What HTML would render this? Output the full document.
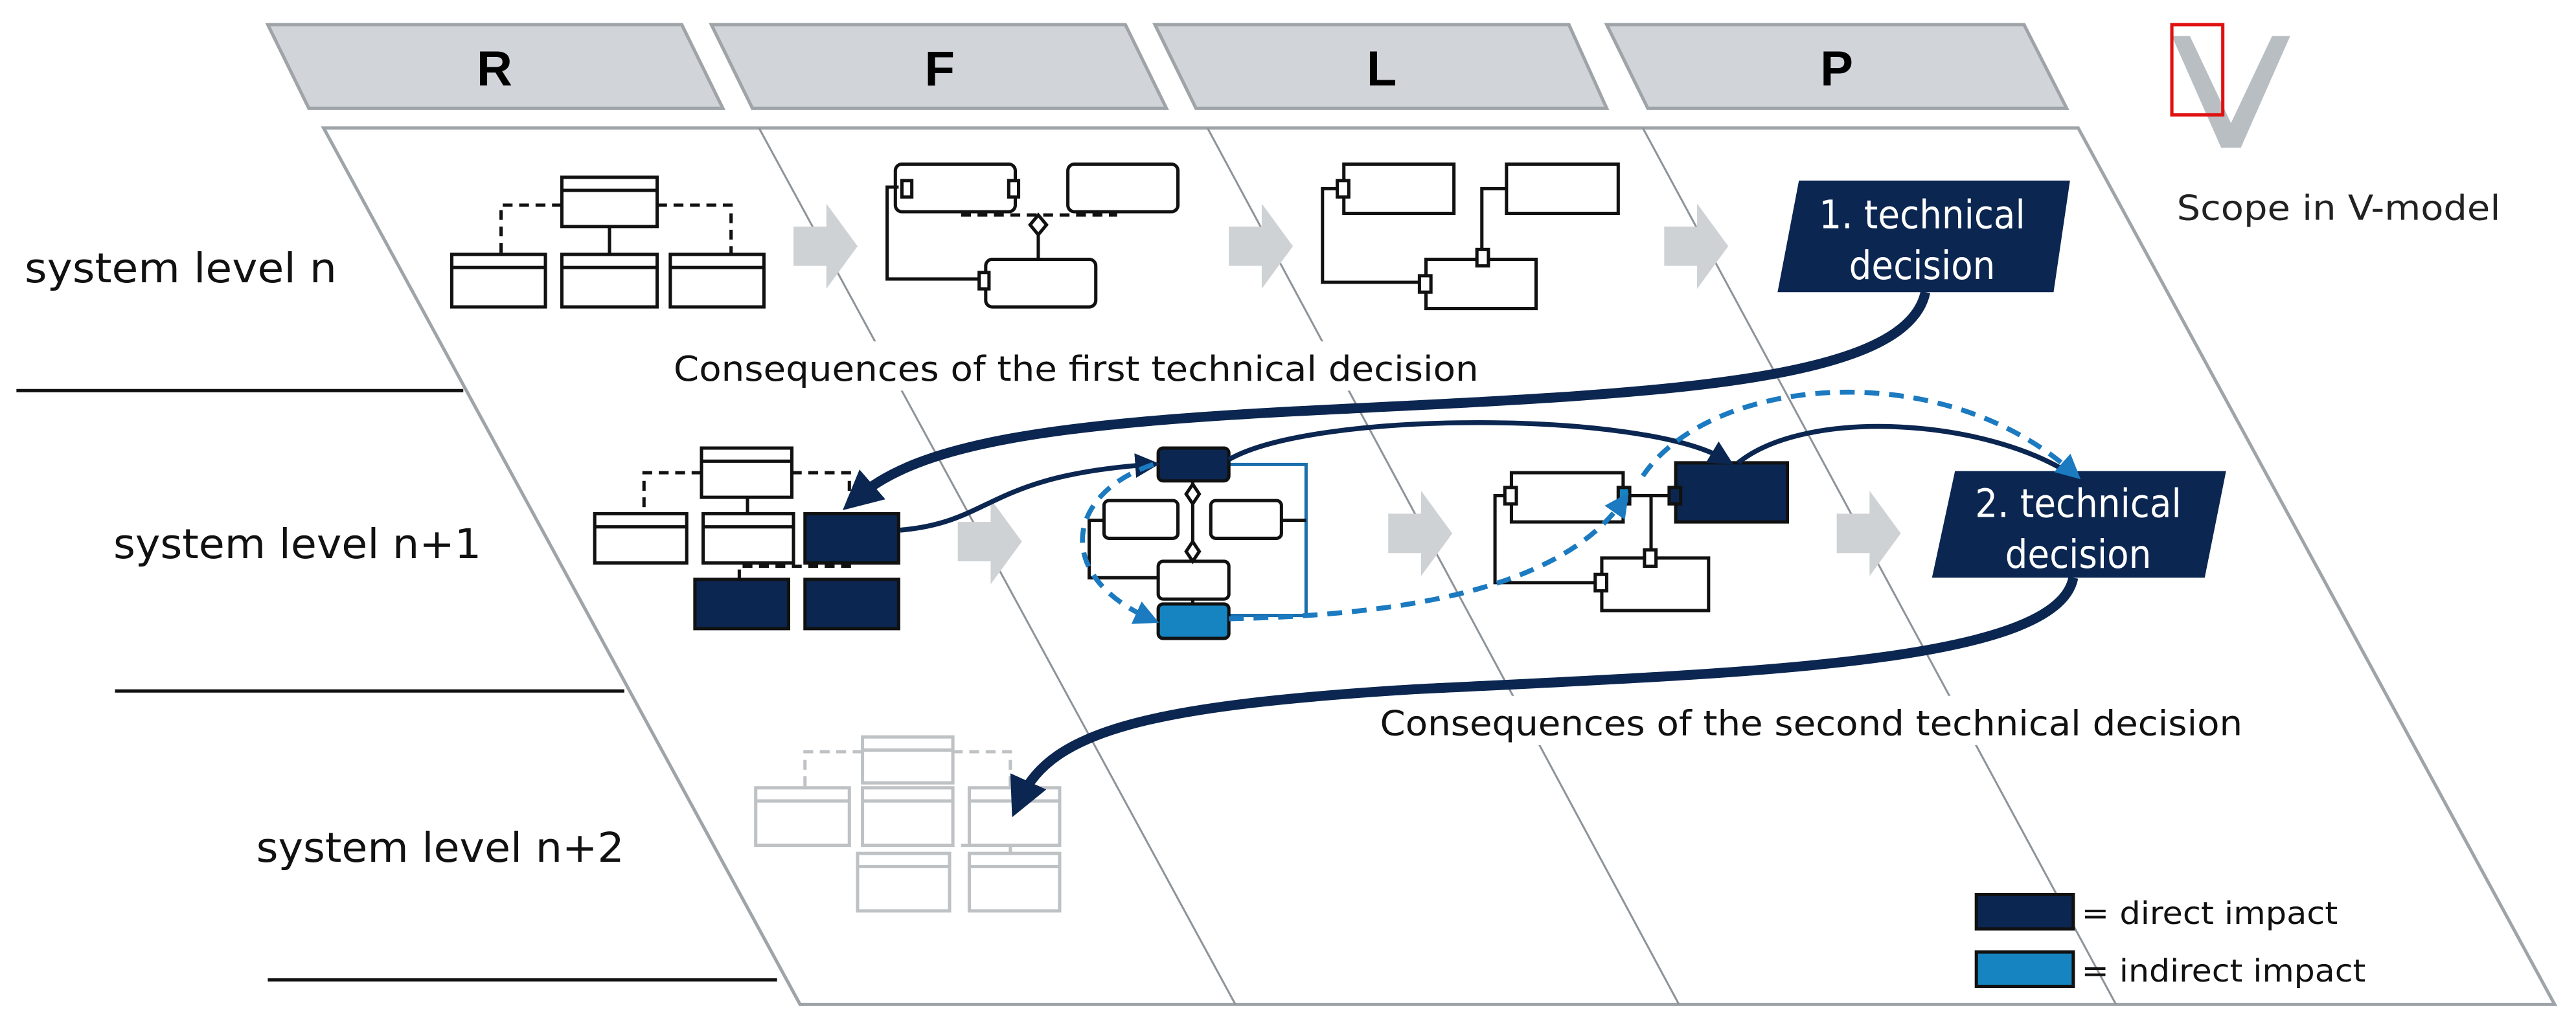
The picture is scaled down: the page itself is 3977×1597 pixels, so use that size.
<!DOCTYPE html>
<html><head><style>html,body{margin:0;padding:0;background:#fff}svg{display:block}</style></head>
<body>
<svg width="3977" height="1597" viewBox="0 0 1568 630" preserveAspectRatio="none" xmlns="http://www.w3.org/2000/svg" font-family="'DejaVu Sans Condensed','Liberation Sans',sans-serif">
<defs>
<marker id="ad" markerWidth="4" markerHeight="4" refX="2" refY="2" orient="auto" markerUnits="strokeWidth"><path d="M0,0 L4,2 L0,4 z" fill="#0b2650"/></marker>
<marker id="adt" markerWidth="5" markerHeight="5" refX="3" refY="2.5" orient="auto" markerUnits="strokeWidth"><path d="M0,0 L5,2.5 L0,5 z" fill="#0b2650"/></marker>
<marker id="al" markerWidth="5" markerHeight="5" refX="3" refY="2.5" orient="auto" markerUnits="strokeWidth"><path d="M0,0 L5,2.5 L0,5 z" fill="#1b7ac0"/></marker>
</defs>
<g fill="#d1d4d8" stroke="#9ea4a8" stroke-width="2">
<polygon points="163,15 415,15 440,66 188,66"/>
<polygon points="433,15 685,15 710,66 458,66"/>
<polygon points="703,15 955,15 978,66 728,66"/>
<polygon points="978,15 1232,15 1258,66 1003,66"/>
</g>
<g font-family="'Liberation Sans',sans-serif" font-weight="bold" font-size="30" text-anchor="middle">
<text x="301" y="52">R</text><text x="572" y="52">F</text><text x="841" y="52">L</text><text x="1118" y="52">P</text>
</g>
<polygon points="1322,22 1333,22 1358,75 1383,22 1394,22 1364,90 1352,90" fill="#b9bec3"/>
<rect x="1322" y="15" width="31" height="55" fill="none" stroke="#e01010" stroke-width="2"/>
<text x="1325" y="134" font-size="21" fill="#222" textLength="197" lengthAdjust="spacingAndGlyphs">Scope in V-model</text>
<polygon points="197,78 1265,78 1555,612 487,612" fill="#fff" stroke="#9ea4a8" stroke-width="2"/>
<g stroke="#8e9499" stroke-width="1.2">
<line x1="462" y1="78" x2="752" y2="612"/>
<line x1="735" y1="78" x2="1022" y2="612"/>
<line x1="1000" y1="78" x2="1288" y2="612"/>
</g>
<g stroke="#111" stroke-width="2">
<line x1="10" y1="238" x2="282" y2="238"/>
<line x1="70" y1="421" x2="380" y2="421"/>
<line x1="163" y1="597" x2="473" y2="597"/>
</g>
<g font-size="25" fill="#111">
<text x="15" y="172" textLength="190" lengthAdjust="spacingAndGlyphs">system level n</text>
<text x="69" y="340" textLength="224" lengthAdjust="spacingAndGlyphs">system level n+1</text>
<text x="156" y="525" textLength="224" lengthAdjust="spacingAndGlyphs">system level n+2</text>
</g>
<rect x="405" y="208" width="500" height="30" fill="#fff"/>
<text x="410" y="232" font-size="21" fill="#111" textLength="490" lengthAdjust="spacingAndGlyphs">Consequences of the first technical decision</text>
<rect x="835" y="424" width="535" height="30" fill="#fff"/>
<text x="840" y="448" font-size="21" fill="#111" textLength="525" lengthAdjust="spacingAndGlyphs">Consequences of the second technical decision</text>
<g fill="#cfd2d5">
<polygon points="483,138 503,138 503,124 522,150 503,176 503,162 483,162"/>
<polygon points="748,138 768,138 768,124 787,150 768,176 768,162 748,162"/>
<polygon points="1013,138 1033,138 1033,124 1052,150 1033,176 1033,162 1013,162"/>
<polygon points="583,318 603,318 603,304 622,330 603,356 603,342 583,342"/>
<polygon points="845,313 865,313 865,299 884,325 865,351 865,337 845,337"/>
<polygon points="1118,313 1138,313 1138,299 1157,325 1138,351 1138,337 1118,337"/>
</g>
<g fill="#fff" stroke="#111" stroke-width="2">
<rect x="342" y="108" width="58" height="30"/><line x1="342" y1="116" x2="400" y2="116"/>
<rect x="275" y="155" width="57" height="32"/><line x1="275" y1="163" x2="332" y2="163"/>
<rect x="342" y="155" width="58" height="32"/><line x1="342" y1="163" x2="400" y2="163"/>
<rect x="408" y="155" width="57" height="32"/><line x1="408" y1="163" x2="465" y2="163"/>
</g>
<g stroke="#111" stroke-width="2" fill="none">
<path d="M342,125 H305 V155" stroke-dasharray="6,4"/><path d="M400,125 H445 V155" stroke-dasharray="6,4"/>
<line x1="371" y1="138" x2="371" y2="155"/>
</g>
<g fill="#fff" stroke="#111" stroke-width="2">
<rect x="545" y="100" width="73" height="29" rx="4"/><rect x="650" y="100" width="67" height="29" rx="4"/><rect x="600" y="158" width="67" height="29" rx="4"/>
<path d="M547,114 H540 V170 H600" fill="none"/><line x1="632" y1="143" x2="632" y2="158"/>
<path d="M585,131 H680" stroke-dasharray="6,4" fill="none"/>
<polygon points="632,131 637,137 632,143 627,137"/>
<rect x="549" y="110" width="6" height="10"/><rect x="614" y="110" width="6" height="10"/><rect x="596" y="166" width="6" height="10"/>
</g>
<g fill="#fff" stroke="#111" stroke-width="2">
<rect x="818" y="100" width="67" height="30"/><rect x="917" y="100" width="68" height="30"/><rect x="868" y="158" width="67" height="30"/>
<path d="M818,115 H805 V172 H868" fill="none"/><path d="M917,115 H902 V158" fill="none"/>
<rect x="814" y="110" width="7" height="10"/><rect x="899" y="152" width="7" height="10"/><rect x="864" y="168" width="7" height="10"/>
</g>
<polygon points="1095,110 1260,110 1250,178 1082,178" fill="#0b2650"/>
<text x="1170" y="139" font-size="24" fill="#fff" text-anchor="middle">1. technical</text>
<text x="1170" y="170" font-size="24" fill="#fff" text-anchor="middle">decision</text>
<polygon points="1190,287 1355,287 1342,352 1176,352" fill="#0b2650"/>
<text x="1265" y="315" font-size="24" fill="#fff" text-anchor="middle">2. technical</text>
<text x="1265" y="346" font-size="24" fill="#fff" text-anchor="middle">decision</text>
<g stroke="#111" stroke-width="2">
<rect x="427" y="273" width="55" height="30" fill="#fff"/><line x1="427" y1="281" x2="482" y2="281"/>
<rect x="362" y="313" width="56" height="30" fill="#fff"/><line x1="362" y1="321" x2="418" y2="321"/>
<rect x="428" y="313" width="55" height="30" fill="#fff"/><line x1="428" y1="321" x2="483" y2="321"/>
<rect x="490" y="313" width="57" height="30" fill="#0b2650"/>
<rect x="423" y="353" width="57" height="30" fill="#0b2650"/>
<rect x="490" y="353" width="57" height="30" fill="#0b2650"/>
<line x1="455" y1="303" x2="455" y2="313"/>
<path d="M427,288 H392 V313 M482,288 H517 V313 M450,353 V345 H517 V343" fill="none" stroke-dasharray="6,4"/>
</g>
<g stroke="#111" stroke-width="2">
<path d="M748,283 H795 V375 H748" fill="none" stroke="#1b6fae"/>
<path d="M672,317 H663 V352 H705" fill="none"/><path d="M780,317 H795" fill="none"/>
<line x1="726" y1="293" x2="726" y2="370"/>
<rect x="705" y="273" width="43" height="20" rx="3" fill="#0b2650"/>
<rect x="672" y="305" width="45" height="23" rx="3" fill="#fff"/>
<rect x="737" y="305" width="43" height="23" rx="3" fill="#fff"/>
<rect x="705" y="342" width="43" height="23" rx="3" fill="#fff"/>
<rect x="705" y="368" width="43" height="21" rx="3" fill="#1584c0"/>
<polygon points="726,295 730,301 726,307 722,301" fill="#fff"/>
<polygon points="726,330 730,336 726,342 722,336" fill="#fff"/>
</g>
<g stroke="#111" stroke-width="2">
<path d="M920,302 H910 V355 H975 M988,302 H1020 M1005,302 V340" fill="none"/>
<rect x="920" y="288" width="68" height="30" fill="#fff"/>
<rect x="1020" y="282" width="68" height="36" fill="#0b2650"/>
<rect x="975" y="340" width="65" height="32" fill="#fff"/>
<rect x="916" y="297" width="7" height="10" fill="#fff"/><rect x="985" y="297" width="7" height="10" fill="#1584c0"/><rect x="1016" y="297" width="7" height="10" fill="#0b2650"/>
<rect x="1001" y="335" width="7" height="10" fill="#fff"/><rect x="971" y="350" width="7" height="10" fill="#fff"/>
</g>
<g fill="#fff" stroke="#bfc2c5" stroke-width="2">
<rect x="525" y="449" width="55" height="28"/><line x1="525" y1="457" x2="580" y2="457"/>
<rect x="460" y="480" width="57" height="35"/><line x1="460" y1="488" x2="517" y2="488"/>
<rect x="525" y="480" width="55" height="35"/><line x1="525" y1="488" x2="580" y2="488"/>
<rect x="590" y="480" width="55" height="35"/><line x1="590" y1="488" x2="645" y2="488"/>
<rect x="522" y="520" width="56" height="35"/><line x1="522" y1="528" x2="578" y2="528"/>
<rect x="590" y="520" width="55" height="35"/><line x1="590" y1="528" x2="645" y2="528"/>
<path d="M525,458 H490 V480 M580,458 H615 V480 M565,515 H615 V520" fill="none" stroke-dasharray="6,4"/>
</g>
<g fill="none">
<path d="M1172,178 C1160,235 1000,240 800,250 C640,258 560,270 522,303" stroke="#0b2650" stroke-width="6" marker-end="url(#ad)"/>
<path d="M1262,352 C1252,405 1060,410 860,420 C700,430 640,445 621,487" stroke="#0b2650" stroke-width="6" marker-end="url(#ad)"/>
<path d="M548,323 C605,318 600,290 700,283" stroke="#0b2650" stroke-width="3" marker-end="url(#adt)"/>
<path d="M748,280 C800,250 1000,250 1050,280" stroke="#0b2650" stroke-width="3" marker-end="url(#adt)"/>
<path d="M1058,282 C1100,248 1210,255 1262,290" stroke="#0b2650" stroke-width="3" marker-end="url(#adt)"/>
<path d="M702,283 C650,300 640,350 700,377" stroke="#1b7ac0" stroke-width="3" stroke-dasharray="9,6" marker-end="url(#al)"/>
<path d="M748,377 C850,375 950,360 988,305" stroke="#1b7ac0" stroke-width="3" stroke-dasharray="9,6" marker-end="url(#al)"/>
<path d="M1000,290 C1040,230 1180,215 1262,288" stroke="#1b7ac0" stroke-width="3" stroke-dasharray="9,6" marker-end="url(#al)"/>
</g>
<rect x="1203" y="545" width="59" height="21" fill="#0b2650" stroke="#111" stroke-width="2"/>
<text x="1267" y="563" font-size="19" fill="#111" textLength="156" lengthAdjust="spacingAndGlyphs">= direct impact</text>
<rect x="1203" y="580" width="59" height="21" fill="#1584c0" stroke="#111" stroke-width="2"/>
<text x="1267" y="598" font-size="19" fill="#111" textLength="173" lengthAdjust="spacingAndGlyphs">= indirect impact</text>
</svg>
</body></html>
